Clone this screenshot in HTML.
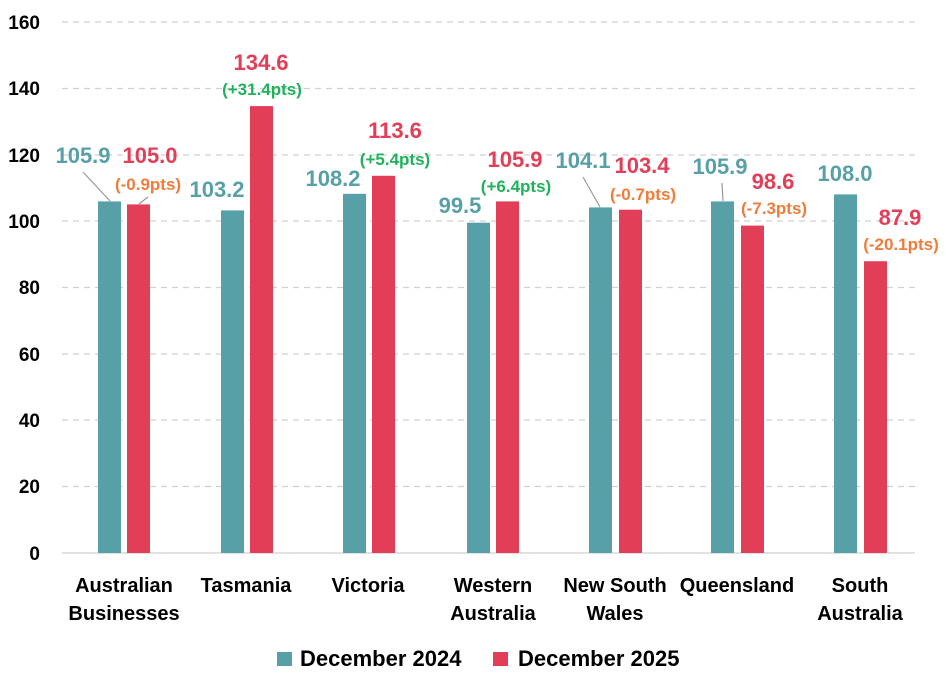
<!DOCTYPE html>
<html><head><meta charset="utf-8"><style>
body{margin:0;background:#fff}
svg text{font-family:"Liberation Sans",sans-serif;font-weight:bold}
</style></head><body>
<svg width="946" height="686" viewBox="0 0 946 686" xmlns="http://www.w3.org/2000/svg">
<g stroke="#d0d0d0" stroke-width="1.2" stroke-dasharray="6,5">
<line x1="62" x2="915" y1="22" y2="22"/><line x1="62" x2="915" y1="88.5" y2="88.5"/>
<line x1="62" x2="915" y1="155" y2="155"/><line x1="62" x2="915" y1="221" y2="221"/>
<line x1="62" x2="915" y1="287.5" y2="287.5"/><line x1="62" x2="915" y1="354" y2="354"/>
<line x1="62" x2="915" y1="420" y2="420"/><line x1="62" x2="915" y1="486.5" y2="486.5"/>
</g>
<line x1="62" x2="915" y1="553" y2="553" stroke="#d0d0d0" stroke-width="1.2"/>
<g font-size="19" text-anchor="end" fill="#000">
<text x="40" y="29">160</text><text x="40" y="95">140</text><text x="40" y="162">120</text>
<text x="40" y="228">100</text><text x="40" y="294">80</text><text x="40" y="361">60</text>
<text x="40" y="427">40</text><text x="40" y="493">20</text><text x="40" y="560">0</text>
</g>
<g fill="#58a0a8">
<rect x="98" y="201.4" width="23" height="351.6"/>
<rect x="221" y="210.4" width="23" height="342.6"/>
<rect x="343" y="193.8" width="23" height="359.2"/>
<rect x="467" y="222.7" width="23" height="330.3"/>
<rect x="589" y="207.4" width="23" height="345.6"/>
<rect x="711" y="201.4" width="23" height="351.6"/>
<rect x="834" y="194.4" width="23" height="358.6"/>
</g>
<g fill="#e23e57">
<rect x="127" y="204.4" width="23" height="348.6"/>
<rect x="250" y="106.1" width="23" height="446.9"/>
<rect x="372" y="175.8" width="23" height="377.2"/>
<rect x="496" y="201.4" width="23" height="351.6"/>
<rect x="619" y="209.7" width="23" height="343.3"/>
<rect x="741" y="225.6" width="23" height="327.4"/>
<rect x="864" y="261.2" width="23" height="291.8"/>
</g>
<g stroke="#999" stroke-width="1.2">
<line x1="83" y1="172" x2="110" y2="201"/>
<line x1="139" y1="204" x2="148" y2="197"/>
<line x1="583" y1="177" x2="600" y2="207"/>
<line x1="722" y1="183" x2="723" y2="201"/>
</g>
<g font-size="22" text-anchor="middle">
<text x="83" y="163" fill="#58a0a8">105.9</text>
<text x="150" y="163" fill="#e23e57">105.0</text>
<text x="217" y="197" fill="#58a0a8">103.2</text>
<text x="261" y="70" fill="#e23e57">134.6</text>
<text x="333" y="186" fill="#58a0a8">108.2</text>
<text x="395" y="138" fill="#e23e57">113.6</text>
<text x="460" y="213" fill="#58a0a8">99.5</text>
<text x="515" y="167" fill="#e23e57">105.9</text>
<text x="583" y="168" fill="#58a0a8">104.1</text>
<text x="642" y="173" fill="#e23e57">103.4</text>
<text x="720" y="174" fill="#58a0a8">105.9</text>
<text x="773" y="189" fill="#e23e57">98.6</text>
<text x="845" y="181" fill="#58a0a8">108.0</text>
<text x="900" y="225" fill="#e23e57">87.9</text>
</g>
<g font-size="17" text-anchor="middle">
<text x="148" y="190" fill="#f07c3a">(-0.9pts)</text>
<text x="262" y="95" fill="#1fb25a">(+31.4pts)</text>
<text x="395" y="165" fill="#1fb25a">(+5.4pts)</text>
<text x="516" y="192" fill="#1fb25a">(+6.4pts)</text>
<text x="643" y="200" fill="#f07c3a">(-0.7pts)</text>
<text x="774" y="214" fill="#f07c3a">(-7.3pts)</text>
<text x="901" y="250" fill="#f07c3a">(-20.1pts)</text>
</g>
<g font-size="20" text-anchor="middle" fill="#000">
<text x="124" y="592">Australian</text><text x="124" y="620">Businesses</text>
<text x="246" y="592">Tasmania</text>
<text x="368" y="592">Victoria</text>
<text x="493" y="592">Western</text><text x="493" y="620">Australia</text>
<text x="615" y="592">New South</text><text x="615" y="620">Wales</text>
<text x="737" y="592">Queensland</text>
<text x="860" y="592">South</text><text x="860" y="620">Australia</text>
</g>
<rect x="277" y="652" width="15" height="14" fill="#58a0a8"/>
<text x="300" y="666" font-size="22" fill="#000">December 2024</text>
<rect x="493" y="652" width="15" height="14" fill="#e23e57"/>
<text x="518" y="666" font-size="22" fill="#000">December 2025</text>
</svg>
</body></html>
